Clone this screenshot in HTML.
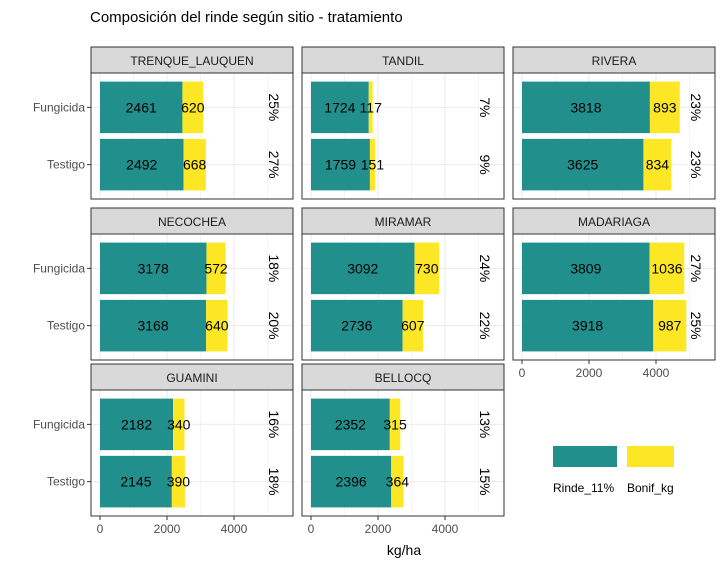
<!DOCTYPE html>
<html><head><meta charset="utf-8"><style>
body{margin:0;background:#fff;}
svg text{font-family:"Liberation Sans",sans-serif;}
</style></head><body>
<svg id="chart" width="724" height="566" xmlns="http://www.w3.org/2000/svg">
<text x="90" y="22" font-size="15" fill="#000">Composición del rinde según sitio - tratamiento</text>
<g id="panels"></g>
<g>
<rect x="553" y="446" width="64" height="21" fill="#21908C"/>
<rect x="627" y="446" width="47" height="21" fill="#FDE725"/>
<text x="553" y="492" font-size="12">Rinde_11%</text>
<text x="627" y="492" font-size="12">Bonif_kg</text>
</g>
<text x="404" y="555" font-size="14" text-anchor="middle">kg/ha</text>
</svg>
<script>
const sites=["TRENQUE_LAUQUEN","TANDIL","RIVERA","NECOCHEA","MIRAMAR","MADARIAGA","GUAMINI","BELLOCQ"];
const categories=["Fungicida","Testigo"];
const rindeFung=[2461,1724,3818,3178,3092,3809,2182,2352];
const bonifFung=[620,117,893,572,730,1036,340,315];
const pctFung=["25%","7%","23%","18%","24%","27%","16%","13%"];
const rindeTest=[2492,1759,3625,3168,2736,3918,2145,2396];
const bonifTest=[668,151,834,640,607,987,390,364];
const pctTest=["27%","9%","23%","20%","22%","25%","18%","15%"];
const xTicks=[0,2000,4000];
const pctPos=5200;

const NS="http://www.w3.org/2000/svg";
const g=document.getElementById("panels");
const colX=[91,302,513], rowY=[47,208,364], PW=202, SH=26, PH=126;
function mk(t,a,p){const e=document.createElementNS(NS,t);for(const k in a)e.setAttribute(k,a[k]);(p||g).appendChild(e);return e;}
function xs(px,v){return px+9+v*0.0335;}
function ys(py,pos){return py+(2.6-pos)*(PH/2.2);}
sites.forEach((s,i)=>{
 const c=i%3,r=Math.floor(i/3),px=colX[c],sy=rowY[r],py=sy+SH;
 const pg=mk("g",{});
 
 
 const st=mk("rect",{x:px,y:sy,width:PW,height:SH,fill:"#D9D9D9",stroke:"#333","stroke-width":1},pg);
 
 
 const stt=mk("text",{x:px+PW/2,y:sy+18,"font-size":12,"text-anchor":"middle",fill:"#1a1a1a"},pg);stt.textContent=s;
 
 
 mk("rect",{x:px,y:py,width:PW,height:PH,fill:"#fff"},pg);
 for(let v=0;v<=5000;v+=1000){mk("line",{x1:xs(px,v),x2:xs(px,v),y1:py,y2:py+PH,stroke:"#EBEBEB","stroke-width":v%2000==0?1:0.5},pg);}
 [1,2].forEach(p=>mk("line",{x1:px,x2:px+PW,y1:ys(py,p),y2:ys(py,p),stroke:"#EBEBEB"},pg));
 const rows=[[rindeFung[i],bonifFung[i],pctFung[i],2,"fungicida"],[rindeTest[i],bonifTest[i],pctTest[i],1,"testigo"]];
 rows.forEach(([rv,bv,pc,pos,nm])=>{
  const yc=ys(py,pos),h=0.9*PH/2.2;
  const b1=mk("rect",{x:xs(px,0),y:yc-h/2,width:xs(px,rv)-xs(px,0),height:h,fill:"#21908C"},pg);
  
  
  const b2=mk("rect",{x:xs(px,rv),y:yc-h/2,width:xs(px,rv+bv)-xs(px,rv),height:h,fill:"#FDE725"},pg);
  
  
  const t1=mk("text",{x:xs(px,rv/2),y:yc+5,"font-size":14,"text-anchor":"middle"},pg);t1.textContent=rv;
  
  
  const t2=mk("text",{x:xs(px,rv+bv/2),y:yc+5,"font-size":14,"text-anchor":"middle"},pg);t2.textContent=bv;
  
  
  const tx=xs(px,pctPos);
  const t3=mk("text",{x:tx,y:yc,"font-size":14,"text-anchor":"middle",transform:`rotate(90 ${tx} ${yc}) translate(0 5)`},pg);t3.textContent=pc;
  
  
 });
 mk("rect",{x:px,y:py,width:PW,height:PH,fill:"none",stroke:"#333","stroke-width":1},pg);
 if(c==0){categories.forEach((cat,k)=>{const yy=ys(py,2-k);mk("line",{x1:px-4,x2:px,y1:yy,y2:yy,stroke:"#333"},pg);
  const t=mk("text",{x:px-6,y:yy+4,"font-size":12,"text-anchor":"end",fill:"#4d4d4d"},pg);t.textContent=cat;
  
  });}
 if(i>=5){xTicks.forEach(v=>{const xx=xs(px,v);mk("line",{x1:xx,x2:xx,y1:py+PH,y2:py+PH+4,stroke:"#333"},pg);
  const t=mk("text",{x:xx,y:py+PH+17,"font-size":12,"text-anchor":"middle",fill:"#4d4d4d"},pg);t.textContent=v;
  
  });}
});
</script>
</body></html>
